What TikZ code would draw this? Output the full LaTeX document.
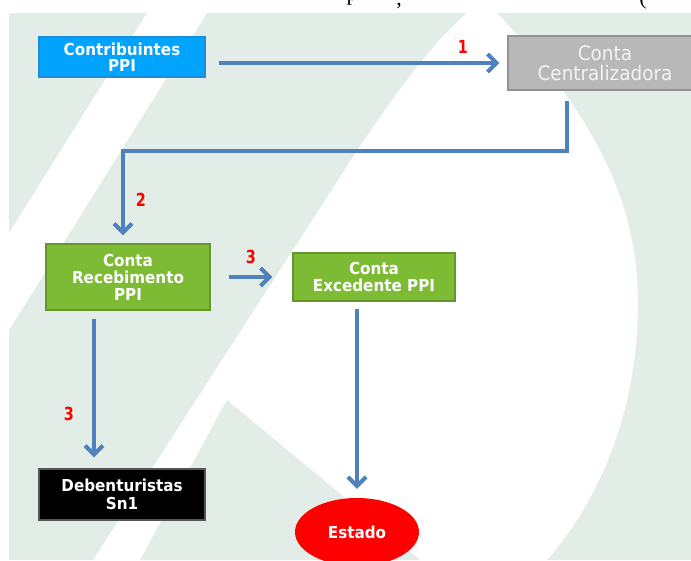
\documentclass[tikz,border=0pt]{standalone}
\usepackage{fontspec}
\usetikzlibrary{arrows.meta,shapes.geometric}
\newfontfamily\boxfont{DejaVu Sans}[FakeStretch=0.92]
\newfontfamily\tagfont{DejaVu Sans}[FakeStretch=0.8]
\newfontfamily\captionserif{Liberation Serif}

\definecolor{panelgreen}{RGB}{226,237,231}
\definecolor{flowblue}{RGB}{79,129,189}
\definecolor{srcblue}{RGB}{0,164,255}
\definecolor{srcedge}{RGB}{30,140,215}
\definecolor{hubgray}{RGB}{184,184,184}
\definecolor{hubedge}{RGB}{145,145,145}
\definecolor{hubtext}{RGB}{243,243,243}
\definecolor{accgreen}{RGB}{124,187,51}
\definecolor{accedge}{RGB}{100,150,45}
\definecolor{sinkedge}{RGB}{85,85,85}
\definecolor{steplabel}{RGB}{255,0,0}

\begin{document}
\begin{tikzpicture}[x=1pt,y=-1pt,
  box/.style={draw, line width=1.3pt, rectangle, inner sep=0pt, align=center, text=white},
  boldtext/.style={font=\boxfont\bfseries\fontsize{16.5}{#1}\selectfont},
  flow/.style={draw=flowblue, line width=4pt, -{Straight Barb[length=9pt,width=18pt]}},
  steptag/.style={text=steplabel, font=\tagfont\bfseries\fontsize{18}{18}\selectfont, inner sep=0pt},
]
\useasboundingbox (0,0) rectangle (691,560);

% caption line above the panel, only its lowest strokes fall on the page
\node[font=\captionserif\fontsize{22}{22}\selectfont, anchor=base, inner sep=0pt] (capp) at (352,0.5) {p};
\node[font=\captionserif\fontsize{22}{22}\selectfont, anchor=base, inner sep=0pt] (capc) at (399,5) {,};
\node[font=\captionserif\fontsize{22}{22}\selectfont, anchor=base, inner sep=0pt] (capb) at (643,4) {(};

% watermark panel
\fill[panelgreen] (9,13) rectangle (691,560);
\fill[white] (147,13) -- (207,13) -- (9,330) -- (9,233) -- cycle;
\fill[white] (93,560) -- (340,177) .. controls (390,100) and (430,45) .. (467,13)
  -- (497,13) .. controls (590,110) and (640,200) .. (638,310)
  .. controls (636,420) and (595,505) .. (547,560) -- cycle;
\fill[panelgreen] (227,400) -- (420,560) -- (140,560) -- cycle;

% boxes
\node[box, fill=srcblue, draw=srcedge, minimum width=166pt, minimum height=40pt, boldtext=15.5]
  (contrib) at (122,57) {Contribuintes\\PPI};
\node[box, fill=hubgray, draw=hubedge, text=hubtext, minimum width=194pt, minimum height=54pt,
  font=\boxfont\fontsize{20}{20}\selectfont]
  (central) at (605,63) {Conta\\Centralizadora};
\node[box, fill=accgreen, draw=accedge, minimum width=164pt, minimum height=66pt, boldtext=17]
  (receb) at (128,277) {Conta\\Recebimento\\PPI};
\node[box, fill=accgreen, draw=accedge, minimum width=162pt, minimum height=48pt, boldtext=17]
  (exced) at (374,277) {Conta\\Excedente PPI};
\node[box, fill=black, draw=sinkedge, minimum width=166pt, minimum height=51pt, boldtext=18.5]
  (deben) at (122,494.5) {Debenturistas\\Sn1};
\node[ellipse, fill=red, inner sep=0pt, minimum width=124pt, minimum height=68pt, text=white, boldtext=16]
  (estado) at (357,532) {Estado};

% connectors
\draw[flow, shorten <=13pt, shorten >=8pt] (contrib.east |- central.west) -- (central.west);
\draw[flow] ([shift={(-38,10)}]central.south) -- ++(0,50) -| ([shift={(-5,-8)}]receb.north);
\draw[flow, shorten <=18pt, shorten >=20pt] (receb.east) -- (exced.west);
\draw[flow] ([shift={(-34,8)}]receb.south) -- ([shift={(-28,-11)}]deben.north);
\draw[flow] ([shift={(-17,7)}]exced.south) -- ([shift={(0,-9)}]estado.north);

% step numbers
\node[steptag] (s1) at (463,47) {1};
\node[steptag] (s2) at (141,200) {2};
\node[steptag] (s3a) at (251,257) {3};
\node[steptag] (s3b) at (69,414) {3};
\end{tikzpicture}
\end{document}
